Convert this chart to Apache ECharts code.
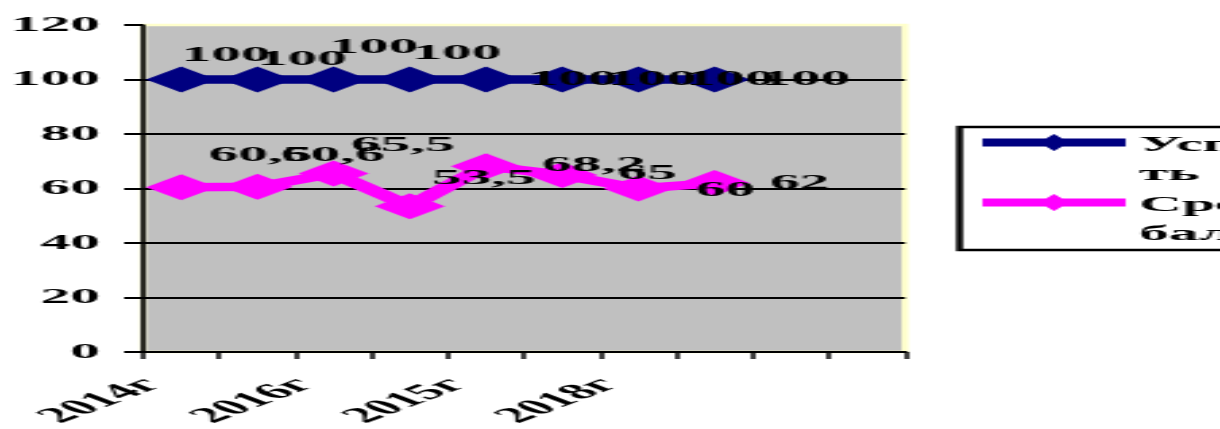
<!DOCTYPE html>
<html><head><meta charset="utf-8">
<script src="https://cdn.jsdelivr.net/npm/echarts@6/dist/echarts.min.js"></script>
<style>
html,body{margin:0;padding:0;background:#fff;overflow:hidden;width:1220px;height:429px}
#chart{width:452px;height:429px;transform:scaleX(2.6991);transform-origin:0 0;}
</style></head><body><div id="chart"></div>
<script>
// ---- data ----
const categories = ['2014г', '', '2016г', '', '2015г', '', '2018г', '', '', ''];
const seriesNames = ['Успеваемость', 'Средний балл'];
const legendLabels = ['Успеваемос\nть', 'Средний\nбалл'];
const progressValues = [100, 100, 100, 100, 100, 100, 100, 100];
const scoreValues = [60.5, 60.6, 65.5, 53.5, 68.2, 65, 60, 62];
const yMin = 0, yMax = 120, yStep = 20;

// ---- label placement (layout only) ----
const progressLabelShift = [[16.7,-24],[16.7,-20],[14.8,-32],[17.4,-26],[32.2,0],[33.3,0],[34.1,0],[33.7,0]];
const scoreLabelShift = [[29.3,-32],[27.8,-32],[25.6,-28],[27.4,-28],[40,-1],[31.5,-2],[32.2,1.5],[31.5,0]];

const FONT = '"Liberation Serif","Times New Roman",serif';
const txt = {fontFamily: FONT, fontWeight: 'bold', fontSize: 22, color: '#000'};

function withLabels(values, shifts) {
  return values.map((v, i) => ({value: v, label: {offset: shifts[i]}}));
}
const legendIconPath = 'path://M0 0L0.01 0L0 0.01Z M0 7.5L53 7.5L53 15.5L0 15.5Z M21 11.5L26.5 3L32 11.5L26.5 20Z M0 58L0.01 58L0 57.99Z';

const chart = echarts.init(document.getElementById('chart'), null, {renderer: 'canvas'});
const labelCommon = Object.assign({
  show: true, position: 'inside', align: 'center', verticalAlign: 'middle',
  formatter: p => String(p.value).replace('.', ',')
}, txt);

chart.setOption({
  animation: false,
  backgroundColor: '#fff',
  grid: {left: 53, right: 116.7, top: 25, bottom: 77, show: true, containLabel: false,
         outerBoundsMode: 'none',
         backgroundColor: '#c0c0c0', borderColor: '#ffffcc', borderWidth: 2.5},
  legend: {
    orient: 'vertical', left: 355.5, top: 127, padding: [4, 5, 1, 8.5],
    itemWidth: 53, itemHeight: 58, itemGap: 2, selectedMode: false,
    backgroundColor: '#fff', borderColor: '#000', borderWidth: 2.5,
    itemStyle: {borderWidth: 0},
    textStyle: Object.assign({lineHeight: 29}, txt),
    formatter: name => legendLabels[seriesNames.indexOf(name)],
    data: seriesNames.map(n => ({name: n, icon: legendIconPath}))
  },
  xAxis: {
    type: 'category', data: categories, boundaryGap: true,
    axisLine: {lineStyle: {color: '#000', width: 2}},
    axisTick: {show: true, interval: 0, length: 7, lineStyle: {color: '#000', width: 1.5}},
    axisLabel: Object.assign({interval: 0, rotate: 45, margin: 19, padding: [0, 15, 0, 0]}, txt),
    splitLine: {show: false}
  },
  yAxis: {
    type: 'value', min: yMin, max: yMax, interval: yStep,
    axisLine: {show: true, lineStyle: {color: '#000', width: 1.7}},
    axisTick: {show: true, length: 7, lineStyle: {color: '#000', width: 2}},
    axisLabel: Object.assign({margin: 16}, txt),
    splitLine: {show: true, showMaxLine: false, lineStyle: {color: '#000', width: 2}}
  },
  series: [
    {name: seriesNames[0], type: 'line', data: withLabels(progressValues, progressLabelShift),
     symbol: 'diamond', symbolSize: 26, color: '#000080',
     lineStyle: {width: 8.5, color: '#000080'}, itemStyle: {color: '#000080', borderWidth: 0},
     label: labelCommon, z: 2},
    {name: seriesNames[1], type: 'line', data: withLabels(scoreValues, scoreLabelShift),
     symbol: 'diamond', symbolSize: 26, color: '#ff00ff',
     lineStyle: {width: 8.5, color: '#ff00ff'}, itemStyle: {color: '#ff00ff', borderWidth: 0},
     label: labelCommon, z: 3}
  ]
});
</script></body></html>
